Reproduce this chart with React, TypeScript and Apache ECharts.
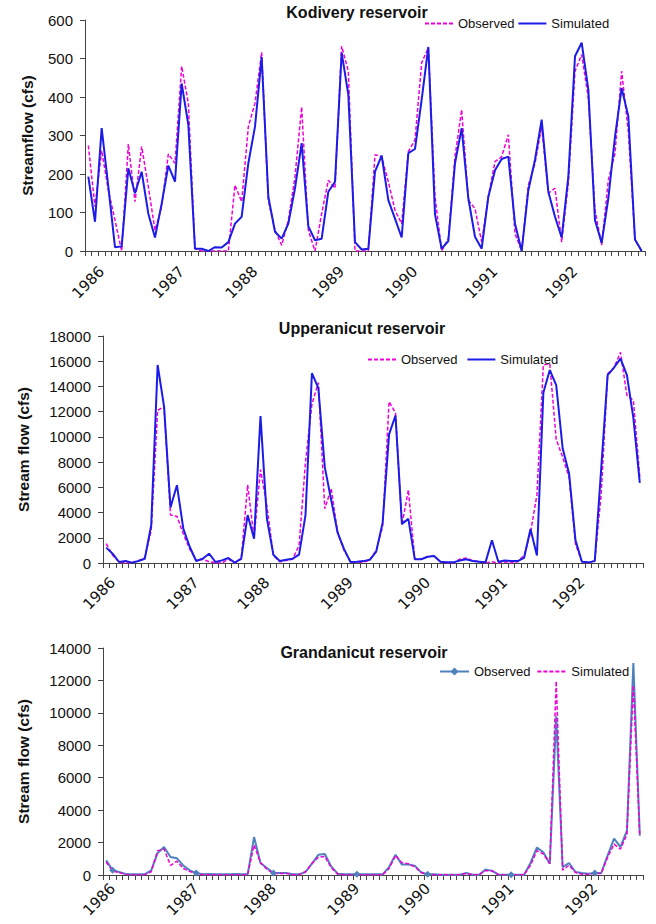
import React, { useEffect, useRef } from "react";
import * as echarts from "echarts";

const FONT = '"Liberation Sans", Arial, sans-serif';
const TICK_FONT = '"DejaVu Sans", Verdana, sans-serif';

// 84 monthly categories, Jan 1986 .. Dec 1992
const categories: string[] = [];
for (let y = 1986; y <= 1992; y++) {
  for (let m = 1; m <= 12; m++) categories.push(`${y}-${m < 10 ? "0" + m : m}`);
}
const yearTickLabels = ["1986", "1987", "1988", "1989", "1990", "1991", "1992"];
const kodiveryYearIndex = [2, 14, 25, 38, 49, 61, 73];
const upperYearIndex = [1, 14, 25, 38, 50, 62, 74];
const grandYearIndex = [1, 14, 26, 39, 50, 63, 76];

const kodiveryObserved = [
  274, 115, 261, 158, 80, 0, 278, 128, 271, 167, 54, 115,
  252, 228, 480, 384, 6, 0, 0, 0, 0, 0, 171, 128,
  323, 384, 516, 132, 54, 15, 80, 193, 374, 54, 0, 97,
  184, 163, 532, 467, 0, 0, 0, 250, 245, 180, 106, 71,
  258, 289, 489, 528, 141, 0, 32, 245, 367, 132, 110, 23,
  141, 232, 245, 302, 45, 0, 171, 228, 323, 150, 163, 23,
  176, 467, 510, 397, 106, 15, 184, 254, 467, 310, 28, 0,
];
const kodiverySimulated = [
  193, 76, 319, 167, 10, 12, 215, 150, 206, 97, 35, 123,
  222, 180, 435, 328, 6, 6, 0, 10, 9, 23, 71, 89,
  228, 323, 504, 141, 50, 32, 71, 163, 280, 64, 28, 32,
  154, 180, 515, 406, 23, 4, 6, 206, 248, 132, 84, 35,
  254, 265, 393, 530, 95, 6, 26, 228, 319, 137, 37, 6,
  141, 210, 239, 245, 71, 0, 158, 237, 341, 154, 89, 35,
  193, 506, 541, 419, 80, 21, 137, 297, 423, 350, 30, 0,
];

const upperObserved = [
  1540, 610, 80, 0, 30, 160, 420, 2600, 12100, 12400, 3800, 3700,
  2300, 1100, 200, 300, 100, 30, 0, 300, 0, 300, 6200, 2000,
  7400, 4500, 600, 100, 200, 300, 1400, 8000, 12600, 14300, 4300, 5900,
  2400, 1000, 100, 50, 50, 250, 1000, 2900, 12800, 11900, 3000, 5800,
  300, 300, 500, 550, 100, 0, 0, 300, 400, 200, 100, 0,
  100, 0, 100, 0, 100, 600, 2400, 5400, 15700, 15800, 9800, 8400,
  6800, 1500, 100, 0, 200, 5500, 15000, 15500, 16700, 13300, 12900, 6800,
];
const upperSimulated = [
  1220, 740, 80, 160, 30, 160, 340, 3000, 15700, 12400, 4400, 6170,
  2700, 1270, 160, 340, 740, 80, 210, 400, 30, 340, 3800, 1930,
  11660, 3500, 660, 160, 265, 340, 660, 3800, 15050, 13860, 7600, 5000,
  2400, 1100, 80, 100, 150, 250, 900, 3200, 10200, 11700, 3100, 3500,
  300, 300, 500, 550, 100, 50, 50, 200, 300, 150, 100, 50,
  1800, 100, 200, 150, 150, 400, 2700, 600, 13500, 15300, 14100, 9100,
  7100, 1800, 100, 50, 150, 7500, 14900, 15500, 16200, 14900, 11500, 6360,
];

const grandObserved = [
  900, 290, 185, 60, 40, 40, 40, 290, 1360, 1730, 1110, 1030,
  575, 290, 120, 40, 60, 40, 40, 40, 60, 40, 40, 2340,
  740, 430, 120, 120, 120, 40, 40, 185, 700, 1250, 1300, 530,
  80, 40, 40, 40, 40, 40, 40, 40, 490, 1250, 640, 640,
  575, 165, 40, 40, 20, 20, 20, 20, 120, 20, 20, 330,
  270, 20, 20, 20, 20, 20, 740, 1700, 1400, 700, 9790, 490,
  740, 185, 120, 80, 120, 120, 1210, 2240, 1730, 2730, 13080, 2430,
];
const grandSimulated = [
  800, 250, 150, 50, 20, 20, 20, 200, 1500, 1600, 600, 850,
  400, 220, 80, 20, 20, 20, 20, 20, 20, 20, 20, 1850,
  750, 350, 100, 100, 100, 20, 20, 200, 700, 1100, 1150, 450,
  50, 20, 20, 20, 20, 20, 20, 20, 400, 1200, 750, 700,
  500, 150, 20, 20, 20, 20, 20, 20, 100, 20, 20, 280,
  250, 20, 20, 20, 20, 20, 600, 1500, 1300, 700, 11950, 300,
  600, 150, 50, 50, 100, 100, 1100, 1900, 1600, 2500, 11700, 2400,
];

const MAGENTA = "#f000d8";
const BLUE = "#1c1ce6";
const STEEL = "#4f81bd";
const AXIS = "#444";

function xAxis(gridIndex: number, yearIndex: number[], margin: number) {
  return {
    type: "category",
    gridIndex,
    data: categories,
    boundaryGap: true,
    axisLine: { show: true, lineStyle: { color: AXIS, width: 1 } },
    axisTick: { show: true, interval: 0, length: 5, inside: false, lineStyle: { color: AXIS } },
    axisLabel: {
      interval: (i: number) => yearIndex.indexOf(i) >= 0,
      formatter: (_v: string, i: number) => {
        const k = yearIndex.indexOf(i);
        return k >= 0 ? yearTickLabels[k] : "";
      },
      rotate: 45,
      margin,
      fontSize: 15,
      fontFamily: TICK_FONT,
      color: "#111",
    },
    splitLine: { show: false },
  };
}

function yAxis(gridIndex: number, max: number, interval: number, name: string, nameGap: number) {
  return {
    type: "value",
    gridIndex,
    min: 0,
    max,
    interval,
    name,
    nameLocation: "middle",
    nameGap,
    nameTextStyle: { fontSize: 15.5, fontWeight: "bold", fontFamily: FONT, color: "#111" },
    axisLine: { show: true, lineStyle: { color: AXIS, width: 1 } },
    axisTick: { show: true, length: 5, lineStyle: { color: AXIS } },
    axisLabel: {
      fontSize: 15,
      fontFamily: FONT,
      color: "#111",
      margin: 12,
      formatter: (v: number) => String(v),
    },
    splitLine: { show: false },
  };
}

function lineSeries(name: string, idx: number, data: number[], color: string, dashed: boolean, width: number) {
  return {
    type: "line",
    name,
    xAxisIndex: idx,
    yAxisIndex: idx,
    data,
    symbol: "none",
    lineStyle: { color, width, type: dashed ? [4, 2] : "solid" },
    itemStyle: { color },
  };
}

function titleText(text: string, x: number, y: number) {
  return {
    type: "text",
    x,
    y,
    style: {
      text,
      textAlign: "center",
      textVerticalAlign: "middle",
      font: `bold 16px ${FONT}`,
      fill: "#111",
    },
  };
}

const noSymbol = { itemStyle: { opacity: 0 } };

export default function App() {
  const ref = useRef<HTMLDivElement>(null);
  useEffect(() => {
    if (!ref.current) return;
    const chart = echarts.init(ref.current, undefined, { renderer: "svg" });
    const legendText = { fontSize: 13, fontFamily: FONT, color: "#111" };
    const legendBase = { padding: 0, itemWidth: 28, itemHeight: 10, textStyle: legendText };
    chart.setOption({
      animation: false,
      backgroundColor: "#fff",
      graphic: [
        titleText("Kodivery reservoir", 357, 12),
        titleText("Upperanicut reservoir", 362, 328),
        titleText("Grandanicut reservoir", 364, 652),
      ],
      legend: [
        {
          ...legendBase,
          data: [{ name: "Observed", ...noSymbol }, { name: "Simulated", ...noSymbol }],
          left: 424,
          top: 17,
          itemGap: 3,
        },
        {
          ...legendBase,
          data: [{ name: "Observed", ...noSymbol }, { name: "Simulated", ...noSymbol }],
          left: 367,
          top: 353,
          itemGap: 9,
        },
        {
          ...legendBase,
          data: [{ name: "Observed " }, { name: "Simulated ", ...noSymbol }],
          formatter: (n: string) => n.trim(),
          left: 439,
          top: 665,
          itemWidth: 29,
          itemGap: 6,
        },
      ],
      grid: [
        { left: 85, top: 20, width: 560, height: 231, containLabel: false, outerBoundsMode: "none" },
        { left: 103, top: 336, width: 540, height: 227, containLabel: false, outerBoundsMode: "none" },
        { left: 103, top: 648, width: 540, height: 227, containLabel: false, outerBoundsMode: "none" },
      ],
      xAxis: [
        xAxis(0, kodiveryYearIndex, 18),
        xAxis(1, upperYearIndex, 17),
        xAxis(2, grandYearIndex, 11),
      ],
      yAxis: [
        yAxis(0, 600, 100, "Streamflow (cfs)", 50),
        yAxis(1, 18000, 2000, "Stream flow (cfs)", 72),
        yAxis(2, 14000, 2000, "Stream flow (cfs)", 72),
      ],
      series: [
        lineSeries("Observed", 0, kodiveryObserved, MAGENTA, true, 1.5),
        lineSeries("Simulated", 0, kodiverySimulated, BLUE, false, 2),
        lineSeries("Observed", 1, upperObserved, MAGENTA, true, 1.5),
        lineSeries("Simulated", 1, upperSimulated, BLUE, false, 2),
        {
          type: "line",
          name: "Observed ",
          xAxisIndex: 2,
          yAxisIndex: 2,
          data: grandObserved,
          symbol: "diamond",
          symbolSize: 7,
          lineStyle: { color: STEEL, width: 2 },
          itemStyle: { color: STEEL },
        },
        lineSeries("Simulated ", 2, grandSimulated, MAGENTA, true, 1.5),
      ],
    });
    return () => chart.dispose();
  }, []);
  return (
    <div
      ref={ref}
      style={{ position: "fixed", left: 0, top: 0, width: 656, height: 924, background: "#fff" }}
    />
  );
}
